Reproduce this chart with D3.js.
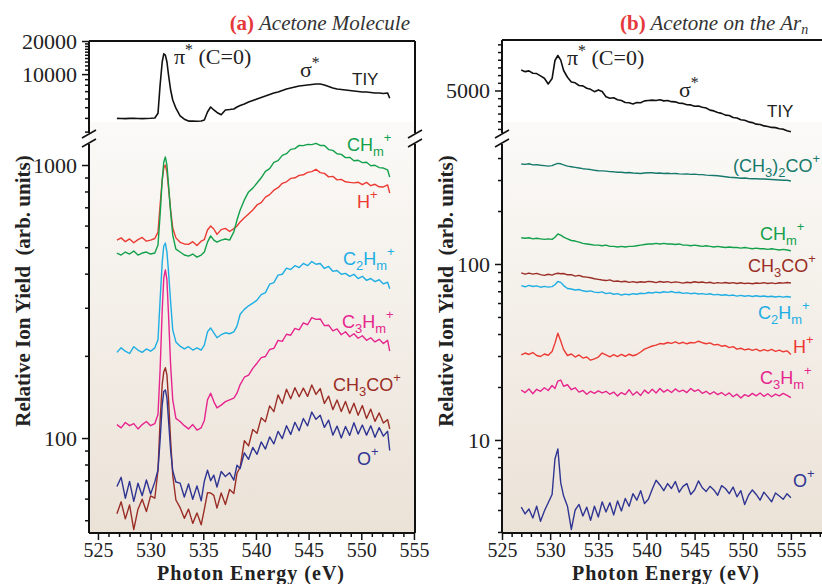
<!DOCTYPE html>
<html><head><meta charset="utf-8">
<script src="https://cdn.jsdelivr.net/npm/d3@7/dist/d3.min.js"></script>
<style>body{margin:0;background:#fff}svg{display:block}</style>
</head><body>
<svg id="c" width="822" height="584"></svg>
<script>
// ---------- DATA: panel (a) Acetone molecule ----------
const energyA = [
 526.8,527.2,527.6,528.0,528.4,528.8,529.2,529.6,530.0,530.4,
 530.7,530.9,531.1,531.25,531.4,531.55,531.7,531.9,532.1,532.4,
 532.8,533.2,533.6,534.0,534.4,534.8,535.1,535.4,535.7,536.0,
 536.3,536.7,537.1,537.5,537.9,538.2,538.5,538.9,539.3,539.7,
 540.1,540.5,540.9,541.3,541.7,542.1,542.5,542.9,543.3,543.7,
 544.1,544.5,544.9,545.3,545.7,546.1,546.5,546.9,547.3,547.7,
 548.1,548.5,548.9,549.3,549.7,550.1,550.5,550.9,551.3,551.7,
 552.1,552.5,552.7];
const tiyA = [
 3960,3950,3940,3955,3960,3945,3940,3950,3965,3990,
 4400,7960,12880,15300,14900,12880,9820,7170,5820,4900,
 4170,3890,3740,3740,3730,3750,3830,4520,5020,4720,
 4480,4270,4720,4760,4820,5020,5190,5350,5580,5760,
 5940,6130,6330,6530,6740,6880,7100,7330,7480,7640,
 7800,7880,7960,8050,8130,8130,7960,7720,7480,7330,
 7250,7170,7100,7020,6950,6880,6880,6810,6740,6740,
 6670,6740,6040];
const chmA = [
 476,468,480,472,484,468,476,480,472,476,
 509,656,881,1026,1070,1000,845,672,554,492,
 480,468,464,472,460,468,480,522,550,531,
 522,531,536,531,569,629,684,745,797,823,
 859,898,948,970,1022,1038,1085,1100,1141,1148,
 1180,1178,1190,1188,1200,1179,1180,1139,1131,1100,
 1094,1064,1067,1037,1041,1020,1023,994,998,978,
 975,959,903];
const hA = [
 531,541,524,536,519,533,543,526,531,538,
 568,714,881,975,1000,943,823,684,588,541,
 521,514,512,524,507,526,533,578,598,583,
 557,580,586,571,585,598,619,641,662,684,
 714,728,763,779,809,826,857,868,893,898,
 916,921,940,946,965,938,932,905,909,882,
 886,868,864,860,865,847,864,840,850,832,
 831,845,790];
const c2hmA = [
 206,214,208,204,216,210,206,212,208,214,
 229,320,441,505,518,480,406,315,249,225,
 217,212,216,210,214,210,219,245,253,243,
 233,239,243,241,245,257,284,296,305,312,
 320,335,341,366,371,395,398,419,414,428,
 421,436,428,443,433,436,418,425,408,411,
 398,401,391,398,384,391,378,384,374,380,
 367,372,352];
const c3hmA = [
 112,109,114,111,113,108,112,115,111,113,
 122,178,294,386,413,379,282,185,138,118,
 115,111,108,112,107,109,116,138,146,136,
 129,132,136,138,140,146,157,167,170,180,
 188,197,199,211,213,228,226,240,238,252,
 249,264,260,276,272,273,258,259,247,251,
 239,245,235,241,232,237,228,233,225,230,
 222,228,208];
const ch3coA = [
 52.8,58.4,50.6,56.9,46.2,54.9,59.7,53.8,61.4,60.2,
 76.4,116,157,175,181,170,138,98,73,59.3,
 55.6,50.8,54.9,48.7,53.2,48.1,54.8,63.1,62.9,61.7,
 55.4,62.9,57.1,64.8,62.7,74.3,78.2,97.8,93.6,107.5,
 104.1,118.6,114.8,131.2,124.9,143.9,133.8,150.9,139.2,152.8,
 141.6,152.3,142.1,156.4,144.5,151.8,133.9,142.4,127.1,137.9,
 125.1,136.2,123.1,134.2,121.2,131.5,118.0,127.6,115.1,123.6,
 113.5,116.8,108];
const oA = [
 66.5,71.8,60.2,69.4,58.6,68.3,61.5,70.2,62.4,69.1,
 76.4,98,132,148,150,140,116,90,76,69,
 68.4,60.8,67.9,59.7,66.8,58.9,69.5,76.2,69.8,73.1,
 66.2,75.4,72.3,74.6,70.1,79.5,77.4,88.3,83.6,92.4,
 87.2,96.8,91.1,100.9,95.2,105.8,99.6,110.9,103.1,114.2,
 106.4,117.9,110.8,124.5,117.1,121.2,109.4,116.3,102.5,110.6,
 100.1,110.2,102.3,113.8,103.4,111.6,102.5,110.9,100.7,109.2,
 101.6,105.9,90];

// ---------- DATA: panel (b) Acetone on Ar clusters ----------
const energyB = [
 527.0,527.4,527.8,528.2,528.6,529.0,529.4,529.8,530.2,530.5,
 530.8,531.1,531.4,531.8,532.2,532.6,533.0,533.4,533.8,534.2,
 534.6,535.0,535.4,535.8,536.2,536.6,537.0,537.4,537.8,538.2,
 538.6,539.0,539.4,539.8,540.2,540.6,541.0,541.4,541.8,542.2,
 542.6,543.0,543.4,543.8,544.2,544.6,545.0,545.4,545.8,546.2,
 546.6,547.0,547.4,547.8,548.2,548.6,549.0,549.4,549.8,550.2,
 550.6,551.0,551.4,551.8,552.2,552.6,553.0,553.4,553.8,554.2,
 554.6,555.0];
const tiyB = [
 5533,5490,5510,5450,5440,5380,5320,5170,5310,5780,
 5910,5790,5520,5345,5220,5200,5130,5120,5060,5030,
 4970,5015,4975,4840,4800,4810,4760,4740,4690,4680,
 4650,4685,4680,4730,4740,4750,4740,4760,4730,4740,
 4710,4705,4670,4665,4630,4625,4590,4595,4565,4545,
 4490,4470,4430,4405,4360,4350,4300,4285,4240,4225,
 4185,4165,4125,4115,4080,4065,4040,4035,4005,3995,
 3955,3930];
const acetoneB = [
 370,368,371,366,367,364,362,360,362,368,
 373,371,366,360,357,354,351,348,346,344,
 341,339,338,337,335,334,332,332,330,331,
 329,328,327,329,330,330,328,329,327,328,
 326,327,325,324,325,323,324,322,322,320,
 319,318,317,315,313,311,310,309,307,308,
 306,305,305,304,304,303,302,301,300,299,
 299,296];
const chmB = [
 141,140,141,139,140,139,138,139,138,142,
 148,146,142,139,136,135,133,131,130,129,
 128,128,127,128,126,126,125,126,125,126,
 126,127,128,129,130,130,131,130,131,130,
 130,129,130,128,128,127,128,127,126,127,
 126,125,126,125,124,125,124,124,123,124,
 123,122,123,122,122,121,122,121,120,121,
 120,119];
const ch3coB = [
 89,87.5,88.8,87.6,88.4,87,86.2,87.4,86.5,87.8,
 88.6,88,88.3,86.8,86.9,85.3,86.1,84.6,84.2,83.5,
 82.4,81.8,81.1,80.5,81.2,79.6,80.1,79.2,79.8,78.6,
 79.4,78.5,79.3,78.8,79.7,79.2,78.4,79.5,78.7,79.4,
 78.3,79.1,78.6,77.9,78.8,78.2,79.3,78.5,79,78.1,
 78.7,77.6,78.4,77.9,78.5,77.7,78.3,77.5,78.2,77.4,
 77.9,77.2,78,77.6,78.3,77.5,78.1,77.4,78.2,77.8,
 78.5,78];
const c2hmB = [
 75.3,74.2,75.6,74.5,75.1,73.8,74.6,73.9,74.4,76.2,
 79.5,78.6,75.4,72.6,72.1,71.2,71.6,70.4,69.8,70.3,
 69.2,68.8,69.4,67.9,68.5,67.3,67.9,66.6,67.4,66.9,
 67.8,67.3,68.2,67.9,68.9,68.4,69.2,68.6,69.5,69,
 69.8,68.7,69.1,68.1,68.5,67.8,68.3,67.5,67.9,67.2,
 67.7,66.8,67.2,66.4,66.9,66.1,66.6,65.7,66.3,65.6,
 66.1,65.4,66,65.3,65.8,65.1,65.6,64.9,65.5,64.8,
 65.4,64.7];
const hB = [
 30.4,31.2,30.6,31.4,30.2,29.8,30.8,30.3,31.8,35.5,
 40.4,36.5,32.6,30.2,30.8,29.6,30.4,29.2,29.6,28.4,
 28.9,29.6,31.2,30.4,29.7,30.5,29.8,30.6,29.9,30.7,
 30.1,30.6,31.6,32.8,33.5,34.2,34.6,35.3,35.1,35.8,
 35.4,36.1,35.3,35.9,35.2,35.8,35.6,36.4,35.7,35.2,
 35.6,34.7,34.9,34.1,34.4,33.5,33.9,32.8,33.2,32.5,
 32.9,32.3,32.8,32,32.6,32.1,32.7,31.9,32.4,31.7,
 32.1,30.6];
const c3hmB = [
 19.2,18.6,19.5,18.3,19.4,18.9,19.8,19.1,20.4,19.6,
 21.6,21.9,20.2,20.6,19.3,19.8,18.7,19.1,18.2,18.9,
 18.4,19.0,18.5,18.9,18.2,18.7,17.8,18.6,18.1,19.3,
 18.0,18.8,17.9,19.2,18.4,19.4,18.5,19.6,18.7,19.3,
 18.6,19.5,18.8,19.2,18.6,19.6,18.9,19.3,18.4,18.9,
 18.2,18.8,18.1,18.6,17.9,18.5,17.6,18.2,17.3,18.1,
 17.7,18.4,17.8,18.5,17.7,18.3,17.6,18.2,17.8,18.4,
 17.9,17.4];
const oB = [
 4.15,3.8,4.05,3.6,4.2,3.45,3.95,4.4,4.9,7.8,
 8.9,5.7,4.8,4.2,3.1,4.0,4.3,3.7,4.15,3.5,
 4.2,3.65,4.45,3.9,4.4,3.75,4.5,3.95,4.65,4.2,
 4.95,4.55,5.15,4.35,4.6,5.25,5.9,5.55,5.15,5.65,
 5.3,5.8,5.05,5.45,5.65,4.9,5.2,5.85,5.35,5.1,
 5.45,5.2,4.85,5.5,5.3,4.95,5.4,4.75,5.15,4.3,
 4.85,5.2,4.9,4.55,5.05,4.75,4.45,5.0,4.8,4.6,
 4.95,4.7];

// ---------- tick values ----------
const xMajorTicks = [525,530,535,540,545,550,555];
const topTicksA = [10000,20000];
const topMinorA = [3000,4000,5000,6000,7000,8000,9000,11000,12000,13000,14000,15000,16000,17000,18000,19000];
const botTicksA = [100,1000];
const botMinorA = [50,60,70,80,90,200,300,400,500,600,700,800,900];
const topTicksB = [5000];
const topMinorB = [4000,4200,4400,4600,4800,5200,5400,5600,5800,6000,6200];
const botTicksB = [10,100];
const botMinorB = [3,4,5,6,7,8,9,20,30,40,50,60,70,80,90,200,300,400];

// ---------- drawing ----------
const svg = d3.select("#c");
const defs = svg.append("defs");
const grad = defs.append("linearGradient").attr("id","bg").attr("x1",0).attr("y1",0).attr("x2",0).attr("y2",1);
grad.append("stop").attr("offset","0%").attr("stop-color","#fbfaf8");
grad.append("stop").attr("offset","100%").attr("stop-color","#ebe2d7");

const SERIF = "'Liberation Serif','Times New Roman',serif";
const SANS = "'Liberation Sans',Arial,sans-serif";
const COL = {tiy:"#111111", green:"#12a04a", red:"#ec3a33", cyan:"#1eaee3", magenta:"#e6258e",
             brown:"#9a2e26", navy:"#2f3592", teal:"#17796b"};

const TOP0 = 41, TOPBRK = 134, BOTBRK = 143, BOT = 533;

function drawPanel(p){
  const g = svg.append("g");
  const x = d3.scaleLinear().domain(p.xDomain).range([p.x0, p.x1]);
  const yT = p.topScale, yB = p.botScale;
  g.append("rect").attr("x",p.x0).attr("y",122).attr("width",p.x1-p.x0).attr("height",BOT-122).attr("fill","url(#bg)");
  const xa = g.append("g").attr("transform",`translate(0,${BOT})`)
    .call(d3.axisBottom(x).tickValues(xMajorTicks).tickSize(7).tickFormat(d3.format("d")));
  const minorX = d3.range(Math.ceil(p.xDomain[0]), Math.floor(p.xDomain[1])+1).filter(v=>v%5!==0);
  const xm = g.append("g").attr("transform",`translate(0,${BOT})`)
    .call(d3.axisBottom(x).tickValues(minorX).tickSize(4).tickFormat(""));
  [xa,xm].forEach(a=>{a.select(".domain").remove(); a.selectAll("line").attr("stroke","#111").attr("stroke-width",1.5);});
  xa.selectAll("text").attr("font-family",SERIF).attr("font-size",20).attr("fill","#222").attr("y",24).attr("dy",null);
  function yaxis(scale, major, minor, fmt){
    const a = g.append("g").attr("transform",`translate(${p.x0},0)`)
      .call(d3.axisLeft(scale).tickValues(major).tickSize(7).tickPadding(5).tickFormat(fmt));
    const m = g.append("g").attr("transform",`translate(${p.x0},0)`)
      .call(d3.axisLeft(scale).tickValues(minor).tickSize(4).tickFormat(""));
    [a,m].forEach(s=>{s.select(".domain").remove(); s.selectAll("line").attr("stroke","#111").attr("stroke-width",1.5);});
    a.selectAll("text").attr("font-family",SERIF).attr("font-size",22).attr("fill","#222");
  }
  yaxis(yT, p.topMajor, p.topMinor, d3.format("d"));
  yaxis(yB, p.botMajor, p.botMinor, d3.format("d"));
  const fr = g.append("g").attr("stroke","#111").attr("stroke-width",2).attr("fill","none");
  fr.append("line").attr("x1",p.x0).attr("x2",p.x1).attr("y1",p.top).attr("y2",p.top);
  fr.append("line").attr("x1",p.x0).attr("x2",p.x1).attr("y1",BOT).attr("y2",BOT);
  const sides = p.rightAxis ? [p.x0,p.x1] : [p.x0];
  sides.forEach(sx=>{
    fr.append("line").attr("x1",sx).attr("x2",sx).attr("y1",p.top).attr("y2",TOPBRK-1);
    fr.append("line").attr("x1",sx).attr("x2",sx).attr("y1",BOTBRK+1).attr("y2",BOT);
    [TOPBRK, BOTBRK].forEach(by=>{
      fr.append("line").attr("stroke-width",1.5).attr("x1",sx-7).attr("y1",by+4).attr("x2",sx+7).attr("y2",by-4);
    });
  });
  const clipId = "clip"+p.id;
  defs.append("clipPath").attr("id",clipId).append("rect").attr("x",p.x0).attr("y",p.top).attr("width",p.x1-p.x0).attr("height",BOT-p.top);
  const lg = g.append("g").attr("clip-path",`url(#${clipId})`).attr("fill","none").attr("stroke-linejoin","round");
  lg.append("path").datum(p.tiy)
    .attr("d", d3.line().x((d,i)=>x(p.energy[i])).y(d=>yT(d)))
    .attr("stroke",COL.tiy).attr("stroke-width",1.6);
  p.series.forEach(s=>{
    lg.append("path").datum(s.values)
      .attr("d", d3.line().x((d,i)=>x(p.energy[i])).y(d=>yB(d)))
      .attr("stroke",s.color).attr("stroke-width",1.4);
  });
  return {g,x};
}

function label(x,y,parts,color,size,family){
  const t = svg.append("text").attr("x",x).attr("y",y).attr("fill",color)
    .attr("font-family",family||SANS).attr("font-size",size||18);
  let cur = 0;
  parts.forEach(([s,k])=>{
    const target = k==='sub'?4.5:(k==='sup'?-9:0);
    const ts = t.append("tspan").text(s).attr("dy",target-cur);
    if(k!=='n') ts.attr("font-size",(size||18)*0.72);
    cur = target;
  });
  return t;
}

drawPanel({
  id:"a", x0:89, x1:415, top:TOP0, xDomain:[524.15,555.1], rightAxis:true,
  topScale: d3.scaleLog().domain([2854,20000]).range([TOPBRK,TOP0]),
  botScale: d3.scaleLog().domain([44.9,1204]).range([BOT,BOTBRK]),
  topMajor:topTicksA, topMinor:topMinorA, botMajor:botTicksA, botMinor:botMinorA,
  energy:energyA, tiy:tiyA,
  series:[
    {values:hA,color:COL.red},{values:chmA,color:COL.green},{values:c2hmA,color:COL.cyan},
    {values:c3hmA,color:COL.magenta},{values:ch3coA,color:COL.brown},{values:oA,color:COL.navy}]
});
drawPanel({
  id:"b", x0:502, x1:840, top:40, xDomain:[525,560.1], rightAxis:false,
  topScale: d3.scaleLinear().domain([3869,6313]).range([TOPBRK,40]),
  botScale: d3.scaleLog().domain([2.96,487]).range([BOT,BOTBRK]),
  topMajor:topTicksB, topMinor:topMinorB, botMajor:botTicksB, botMinor:botMinorB,
  energy:energyB, tiy:tiyB,
  series:[
    {values:acetoneB,color:COL.teal},{values:chmB,color:COL.green},{values:ch3coB,color:COL.brown},
    {values:c2hmB,color:COL.cyan},{values:hB,color:COL.red},{values:c3hmB,color:COL.magenta},{values:oB,color:COL.navy}]
});

// titles
const ta = svg.append("text").attr("x",410).attr("y",30).attr("text-anchor","end").attr("font-family",SERIF).attr("font-size",21);
ta.append("tspan").text("(a)").attr("font-weight","bold").attr("fill","#e5383b");
ta.append("tspan").text(" Acetone Molecule").attr("font-style","italic").attr("fill","#333");
const tb = svg.append("text").attr("x",620).attr("y",30).attr("font-family",SERIF).attr("font-size",21);
tb.append("tspan").text("(b)").attr("font-weight","bold").attr("fill","#e5383b");
tb.append("tspan").text(" Acetone on the Ar").attr("font-style","italic").attr("fill","#333");
tb.append("tspan").text("n").attr("font-style","italic").attr("fill","#333").attr("font-size",14).attr("dy",4);

// axis titles
[[30,291],[453,291]].forEach(([cx,cy])=>{
  svg.append("text").attr("transform",`translate(${cx},${cy}) rotate(-90)`).attr("text-anchor","middle")
    .attr("font-family",SERIF).attr("font-weight","bold").attr("font-size",21).attr("fill","#222")
    .text("Relative Ion Yield\u00a0\u00a0(arb. units)");
});
[251,666].forEach(cx=>{
  svg.append("text").attr("x",cx).attr("y",579.5).attr("text-anchor","middle")
    .attr("font-family",SERIF).attr("font-weight","bold").attr("font-size",20).attr("letter-spacing",1).attr("fill","#222")
    .text("Photon Energy (eV)");
});

// annotations panel (a)
label(174,64,[["π",'n'],["*",'sup'],[" (C=0)",'n']],"#222",22,SERIF);
label(300,77,[["σ",'n'],["*",'sup']],"#222",22,SERIF);
label(352,85,[["TIY",'n']],"#222",17);
label(347,151,[["CH",'n'],["m",'sub'],["+",'sup']],COL.green,18);
label(357,208,[["H",'n'],["+",'sup']],COL.red,18);
label(343,265,[["C",'n'],["2",'sub'],["H",'n'],["m",'sub'],["+",'sup']],COL.cyan,18);
label(342,328,[["C",'n'],["3",'sub'],["H",'n'],["m",'sub'],["+",'sup']],COL.magenta,18);
label(333,391,[["CH",'n'],["3",'sub'],["CO",'n'],["+",'sup']],COL.brown,18);
label(357,465,[["O",'n'],["+",'sup']],COL.navy,18);
// annotations panel (b)
label(567,65,[["π",'n'],["*",'sup'],[" (C=0)",'n']],"#222",22,SERIF);
label(679,97,[["σ",'n'],["*",'sup']],"#222",22,SERIF);
label(767,117,[["TIY",'n']],"#222",17);
label(733,172,[["(CH",'n'],["3",'sub'],[")",'n'],["2",'sub'],["CO",'n'],["+",'sup']],COL.teal,18);
label(760,240,[["CH",'n'],["m",'sub'],["+",'sup']],COL.green,18);
label(748,272,[["CH",'n'],["3",'sub'],["CO",'n'],["+",'sup']],COL.brown,18);
label(758,319,[["C",'n'],["2",'sub'],["H",'n'],["m",'sub'],["+",'sup']],COL.cyan,18);
label(793,353,[["H",'n'],["+",'sup']],COL.red,18);
label(760,384,[["C",'n'],["3",'sub'],["H",'n'],["m",'sub'],["+",'sup']],COL.magenta,18);
label(793,487,[["O",'n'],["+",'sup']],COL.navy,18);
</script>
</body></html>
